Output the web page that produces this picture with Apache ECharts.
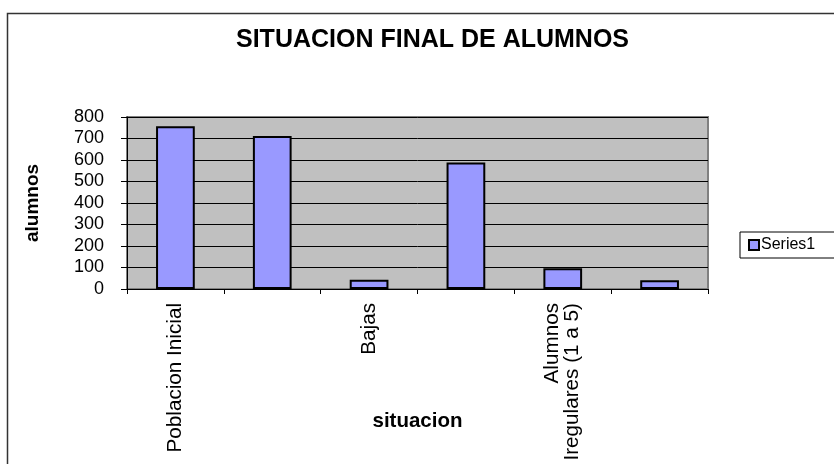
<!DOCTYPE html>
<html>
<head>
<meta charset="utf-8">
<script src="https://cdn.jsdelivr.net/npm/echarts@6/dist/echarts.min.js"></script>
<style>
  html, body { margin: 0; padding: 0; background: #fff; }
  #chart { width: 834px; height: 464px; }
</style>
</head>
<body>
<div id="chart"></div>
<script>
var FONT = "'Liberation Sans', Arial, sans-serif";

// only every other category label is printed in the original
var categories = ['Poblacion Inicial', '', 'Bajas', '', 'Alumnos\nIregulares (1 a 5)', ''];
var series1 = [757, 712, 43, 588, 97, 41];
var yTicks = [0, 800, 100]; // min, max, step

var chart = echarts.init(document.getElementById('chart'));

var option = {
    backgroundColor: '#fff',
    animation: false,
    textStyle: { fontFamily: FONT, color: '#000' },
    graphic: [{
        type: 'rect',
        shape: { x: 7.5, y: 13.5, width: 900, height: 600 },
        style: { fill: 'none', stroke: '#333', lineWidth: 1.5 },
        silent: true
    }],
    title: {
        text: 'SITUACION FINAL DE ALUMNOS',
        left: 231,
        top: 23,
        textStyle: { fontFamily: FONT, fontSize: 25, fontWeight: 'bold', color: '#000' }
    },
    legend: {
        left: 740,
        top: 232,
        orient: 'vertical',
        padding: [5, 60, 5, 8],
        borderColor: '#000',
        borderWidth: 1,
        icon: 'rect',
        itemWidth: 10,
        itemHeight: 10,
        textStyle: { fontFamily: FONT, fontSize: 16, color: '#000', padding: [0, 0, 0, -3] },
        data: ['Series1']
    },
    grid: {
        left: 127,
        right: 126,
        top: 117,
        bottom: 175,
        outerBoundsMode: 'none',
        show: true,
        backgroundColor: '#C0C0C0',
        borderColor: '#808080',
        borderWidth: 2
    },
    xAxis: {
        type: 'category',
        data: categories,
        name: 'situacion',
        nameLocation: 'middle',
        nameGap: 122,
        nameMoveOverlap: false,
        nameTextStyle: { fontFamily: FONT, fontSize: 20.5, fontWeight: 'bold', color: '#000', verticalAlign: 'top' },
        axisLine: { show: true, lineStyle: { color: '#000', width: 1 } },
        axisTick: { show: true, interval: 0, length: 5, lineStyle: { color: '#000' } },
        axisLabel: {
            interval: 1,
            rotate: 90,
            margin: 14,
            fontFamily: FONT,
            fontSize: 20.7,
            color: '#000',
            lineHeight: 20
        },
        splitLine: { show: false }
    },
    yAxis: {
        type: 'value',
        min: yTicks[0],
        max: yTicks[1],
        interval: yTicks[2],
        name: 'alumnos',
        nameLocation: 'middle',
        nameGap: 85,
        nameMoveOverlap: false,
        nameTextStyle: { fontFamily: FONT, fontSize: 19, fontWeight: 'bold', color: '#000' },
        axisLine: { show: true, lineStyle: { color: '#000', width: 1 } },
        axisTick: { show: true, length: 6, lineStyle: { color: '#000' } },
        axisLabel: { margin: 23, fontFamily: FONT, fontSize: 18, color: '#000' },
        splitLine: { show: true, lineStyle: { color: '#000', width: 1 } }
    },
    series: [{
        name: 'Series1',
        type: 'bar',
        data: series1,
        barWidth: '40%',
        itemStyle: { color: '#9999FF', borderColor: '#000', borderWidth: 2 }
    }]
};

chart.setOption(option);
</script>
</body>
</html>
